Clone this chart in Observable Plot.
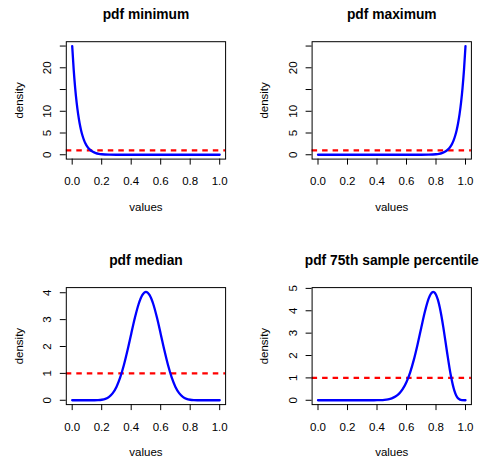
<!DOCTYPE html>
<html><head><meta charset="utf-8">
<script src="https://cdn.jsdelivr.net/npm/d3@7"></script>
<script src="https://cdn.jsdelivr.net/npm/@observablehq/plot@0.6"></script>
<style>
html,body{margin:0;padding:0;background:#fff;}
#root{position:relative;width:479px;height:462px;overflow:hidden;background:#fff;}
#root svg{position:absolute;overflow:visible;}
</style></head><body><div id="root"></div>
<script>
// ---- data ----
const minX = [0, 0.01, 0.02, 0.03, 0.04, 0.05, 0.06, 0.07, 0.08, 0.09, 0.10, 0.12, 0.14, 0.16, 0.18, 0.20, 0.25, 0.30, 0.40, 0.50, 0.60, 0.70, 0.80, 0.90, 1.0];
const minY = [25, 19.64, 15.40, 12.03, 9.39, 7.30, 5.66, 4.38, 3.38, 2.60, 1.99, 1.163, 0.670, 0.381, 0.214, 0.118, 0.025, 0.0048, 0.0001, 0, 0, 0, 0, 0, 0];

const maxX = [0, 0.10, 0.20, 0.30, 0.40, 0.50, 0.60, 0.70, 0.75, 0.80, 0.82, 0.84, 0.86, 0.88, 0.90, 0.91, 0.92, 0.93, 0.94, 0.95, 0.96, 0.97, 0.98, 0.99, 1.0];
const maxY = [0, 0, 0, 0, 0, 0, 0.0001, 0.0048, 0.025, 0.118, 0.214, 0.381, 0.670, 1.163, 1.99, 2.60, 3.38, 4.38, 5.66, 7.30, 9.39, 12.03, 15.40, 19.64, 25];

const medX = [0, 0.025, 0.05, 0.075, 0.1, 0.125, 0.15, 0.175, 0.2, 0.225, 0.25, 0.275, 0.3, 0.325, 0.35, 0.375, 0.4, 0.425, 0.45, 0.475, 0.5,
  0.525, 0.55, 0.575, 0.6, 0.625, 0.65, 0.675, 0.7, 0.725, 0.75, 0.775, 0.8, 0.825, 0.85, 0.875, 0.9, 0.925, 0.95, 0.975, 1.0];
const medY = [0, 0, 0, 0, 0, 0.0002, 0.0013, 0.0055, 0.019, 0.0534, 0.1276, 0.2667, 0.497, 0.840, 1.300, 1.858, 2.469, 3.067, 3.572, 3.910, 4.030,
  3.910, 3.572, 3.067, 2.469, 1.858, 1.300, 0.840, 0.497, 0.2667, 0.1276, 0.0534, 0.019, 0.0055, 0.0013, 0.0002, 0, 0, 0, 0, 0];

const p75X = [0, 0.1, 0.2, 0.3, 0.35, 0.4, 0.425, 0.45, 0.475, 0.5, 0.525, 0.55, 0.575, 0.6, 0.625, 0.65, 0.675, 0.7, 0.725, 0.75,
  0.7625, 0.775, 0.78125, 0.7875, 0.8, 0.8125, 0.825, 0.8375, 0.85, 0.875, 0.9, 0.925, 0.95, 0.975, 1.0];
const p75Y = [0, 0, 0, 0.00004, 0.0004, 0.0034, 0.0085, 0.0197, 0.0426, 0.0863, 0.1645, 0.2962, 0.5049, 0.8159, 1.2501, 1.8155, 2.4968, 3.2436, 3.9665, 4.5408,
  4.729, 4.829, 4.842, 4.829, 4.719, 4.497, 4.169, 3.745, 3.2475, 2.1474, 1.1286, 0.4166, 0.0817, 0.0035, 0];

const titles = ["pdf minimum", "pdf maximum", "pdf median", "pdf 75th sample percentile"];
const xTicks = [0, 0.2, 0.4, 0.6, 0.8, 1.0];
const yTicksBig = [0, 5, 10, 15, 20, 25];
const yLabelsBig = [0, 5, 10, 20];
const yTicksMed = [0, 1, 2, 3, 4];
const yTicksP75 = [0, 1, 2, 3, 4, 5];
const uniformDensity = [1];
const xLabel = "values";
const yLabel = "density";

// ---- layout ----
const FONT = '"Liberation Sans", Arial, Helvetica, sans-serif';
const PW = 240, PH = 231;
const panels = [
  {title: titles[0], xs: minX, ys: minY, yTicks: yTicksBig, yLabels: yLabelsBig, left: 0, top: 0, box: [65.8, 225.1, 41.2, 158.6]},
  {title: titles[1], xs: maxX, ys: maxY, yTicks: yTicksBig, yLabels: yLabelsBig, left: 245.5, top: 0, box: [311.1, 470.4, 41.2, 158.6]},
  {title: titles[2], xs: medX, ys: medY, yTicks: yTicksMed, yLabels: yTicksMed, left: 0, top: 245.5, box: [65.8, 225.1, 286.6, 403.6]},
  {title: titles[3], xs: p75X, ys: p75Y, yTicks: yTicksP75, yLabels: yTicksP75, left: 245.5, top: 245.5, box: [311.1, 470.4, 286.6, 403.6]}
];

const root = document.getElementById("root");
for (const p of panels) {
  const [bl, br, bt, bb] = p.box;
  const data = p.xs.map((x, i) => ({x, y: p.ys[i]}));
  const [y0, y1] = d3.extent(p.ys);
  const pad = (y1 - y0) * 0.04;
  const svg = Plot.plot({
    width: PW, height: PH,
    marginLeft: bl - p.left, marginRight: PW - (br - p.left),
    marginTop: bt - p.top, marginBottom: PH - (bb - p.top),
    style: {fontFamily: FONT, fontSize: "11.5px", background: "transparent", color: "black", overflow: "visible"},
    x: {domain: [-0.04, 1.04], label: null},
    y: {domain: [y0 - pad, y1 + pad], label: null},
    marks: [
      Plot.ruleY(uniformDensity, {stroke: "red", strokeWidth: 2.3, strokeDasharray: "5.5,5"}),
      Plot.line(data, {x: "x", y: "y", stroke: "blue", strokeWidth: 2.3, curve: "monotone-x"}),
      Plot.frame({stroke: "black", strokeWidth: 1}),
      Plot.axisX({ticks: xTicks, tickSize: 6, tickFormat: () => "", label: null, stroke: "black"}),
      Plot.axisY({ticks: p.yTicks, tickSize: 6, tickFormat: () => "", label: null, stroke: "black"}),
      Plot.text(xTicks, {x: d => d, text: d => d.toFixed(1), frameAnchor: "bottom", dy: 22.4, fontSize: 11.5, fill: "black", lineAnchor: "middle"}),
      Plot.text(p.yLabels, {y: d => d, text: d => String(d), frameAnchor: "left", dx: -18.5, rotate: -90, textAnchor: "middle", lineAnchor: "middle", fontSize: 11.5, fill: "black"}),
      Plot.text([p.title], {text: d => d, frameAnchor: "top", dy: -27.3, fontSize: 13.8, fontWeight: "bold", fill: "black", lineAnchor: "middle"}),
      Plot.text([xLabel], {text: d => d, frameAnchor: "bottom", dy: 48, fontSize: 11.5, fill: "black", lineAnchor: "middle"}),
      Plot.text([yLabel], {text: d => d, frameAnchor: "left", dx: -47.4, rotate: -90, fontSize: 11.5, fill: "black", lineAnchor: "middle", textAnchor: "middle"})
    ]
  });
  svg.style.left = p.left + "px";
  svg.style.top = p.top + "px";
  root.appendChild(svg);
}
</script></body></html>
